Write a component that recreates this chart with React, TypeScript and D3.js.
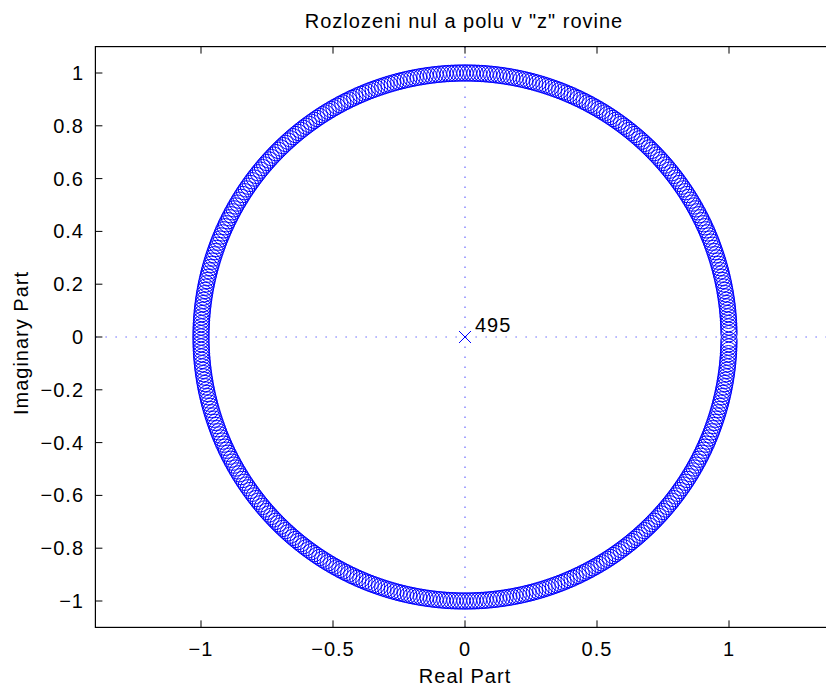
import React from "react";
import * as d3 from "d3";

// Filter: 496-tap moving-average -> 495 zeros on unit circle, pole of order 495 at origin
const zeroCount = 495;
const zeroAngles: number[] = d3.range(1, zeroCount + 1).map((k) => (2 * Math.PI * k) / (zeroCount + 1));
const zerosRe: number[] = zeroAngles.map((a) => Math.cos(a));
const zerosIm: number[] = zeroAngles.map((a) => Math.sin(a));
const polesRe: number[] = [0];
const polesIm: number[] = [0];
const poleMultiplicity: string[] = ["495"];

const xTicks: number[] = [-1, -0.5, 0, 0.5, 1];
const yTicks: number[] = [-1, -0.8, -0.6, -0.4, -0.2, 0, 0.2, 0.4, 0.6, 0.8, 1];
const xDomain: number[] = [-1.4, 1.4];
const yDomain: number[] = [-1.1, 1.1];

const title = 'Rozlozeni nul a polu v "z" rovine';
const xLabel = "Real Part";
const yLabel = "Imaginary Part";

const W = 826;
const H = 689;
const FONT = "'Liberation Sans', Arial, Helvetica, sans-serif";
const FS = 20;
const LS = 1.0;

const fmt = (v: number) => {
  const s = d3.format("")(Math.round(v * 10) / 10);
  return s.replace("-", "\u2212");
};

export default function App() {
  const unit = 264;
  const cx = 465;
  const cy = 337;
  const x = d3.scaleLinear().domain(xDomain).range([cx + xDomain[0] * unit, cx + xDomain[1] * unit]);
  const y = d3.scaleLinear().domain(yDomain).range([cy - yDomain[0] * unit, cy - yDomain[1] * unit]);
  const x0 = x(xDomain[0]);
  const x1 = x(xDomain[1]);
  const y0 = y(yDomain[0]);
  const y1 = y(yDomain[1]);
  const tl = 7;
  const blue = "#0000ff";
  const mr = 8.2;
  const px = 6;

  return (
    <svg width={W} height={H} style={{ position: "absolute", left: 0, top: 0, background: "#fff" }} fontFamily={FONT}>
      <rect x={0} y={0} width={W} height={H} fill="#fff" />
      <defs>
        <clipPath id="plotclip">
          <rect x={x0} y={y1} width={x1 - x0} height={y0 - y1} />
        </clipPath>
      </defs>
      <g clipPath="url(#plotclip)">
        <line x1={x0} x2={x1} y1={y(0)} y2={y(0)} stroke={blue} strokeOpacity={0.6} strokeWidth={1.2} strokeDasharray="1.5,8.5" />
        <line x1={x(0)} x2={x(0)} y1={y1} y2={y0} stroke={blue} strokeOpacity={0.6} strokeWidth={1.2} strokeDasharray="1.5,8.5" />
        {zerosRe.map((re, i) => (
          <circle key={i} cx={x(re)} cy={y(zerosIm[i])} r={mr} fill="none" stroke={blue} strokeWidth={1} />
        ))}
        {polesRe.map((re, i) => (
          <g key={"p" + i} stroke={blue} strokeWidth={1}>
            <line x1={x(re) - px} y1={y(polesIm[i]) - px} x2={x(re) + px} y2={y(polesIm[i]) + px} />
            <line x1={x(re) - px} y1={y(polesIm[i]) + px} x2={x(re) + px} y2={y(polesIm[i]) - px} />
          </g>
        ))}
      </g>
      {polesRe.map((re, i) => (
        <text key={"pl" + i} x={x(re) + 10} y={y(polesIm[i]) - 5} fontSize={FS} letterSpacing={LS} fill="#000">
          {poleMultiplicity[i]}
        </text>
      ))}
      <rect x={x0} y={y1} width={x1 - x0} height={y0 - y1} fill="none" stroke="#000" strokeWidth={1.2} />
      {xTicks.map((t) => (
        <g key={"xt" + t}>
          <line x1={x(t)} x2={x(t)} y1={y0} y2={y0 - tl} stroke="#000" strokeWidth={1} />
          <line x1={x(t)} x2={x(t)} y1={y1} y2={y1 + tl} stroke="#000" strokeWidth={1} />
          <text x={x(t)} y={656} textAnchor="middle" fontSize={FS} letterSpacing={LS} fill="#000">
            {fmt(t)}
          </text>
        </g>
      ))}
      {yTicks.map((t) => (
        <g key={"yt" + t}>
          <line x1={x0} x2={x0 + tl} y1={y(t)} y2={y(t)} stroke="#000" strokeWidth={1} />
          <line x1={x1} x2={x1 - tl} y1={y(t)} y2={y(t)} stroke="#000" strokeWidth={1} />
          <text x={84} y={y(t) + 7} textAnchor="end" fontSize={FS} letterSpacing={LS} fill="#000">
            {fmt(t)}
          </text>
        </g>
      ))}
      <text x={(x0 + x1) / 2 - 1} y={28} textAnchor="middle" fontSize={FS} letterSpacing={LS} fill="#000">
        {title}
      </text>
      <text x={465} y={683} textAnchor="middle" fontSize={FS} letterSpacing={LS} fill="#000">
        {xLabel}
      </text>
      <text transform={`translate(28,${cy + 6}) rotate(-90)`} textAnchor="middle" fontSize={FS} letterSpacing={LS} fill="#000">
        {yLabel}
      </text>
    </svg>
  );
}
